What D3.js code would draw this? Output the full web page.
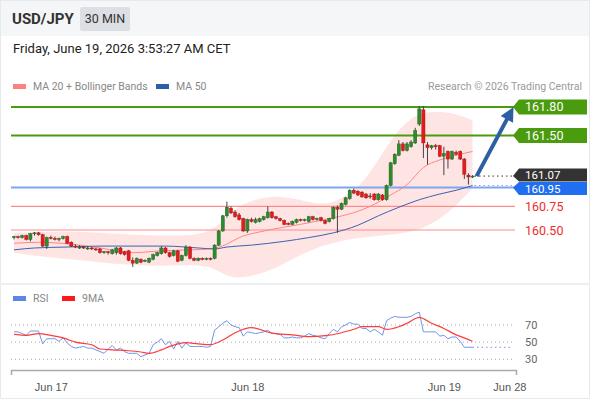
<!DOCTYPE html>
<html>
<head>
<meta charset="utf-8">
<title>USD/JPY 30 MIN</title>
<script src="https://d3js.org/d3.v7.min.js"></script>
<style>
  body { margin: 0; background: #fff; }
  svg { display: block; font-family: Roboto, "Liberation Sans", Arial, sans-serif; }
</style>
</head>
<body>
<div id="chart"></div>
<script>
// 30 min candles, index 0 = Jun 16 19:30, last = Jun 19 03:30
const opens = [160.42,160.43,160.42,160.44,160.40,160.46,160.47,160.45,160.33,160.42,
  160.41,160.40,160.41,160.43,160.37,160.33,160.32,160.32,160.31,160.31,
  160.30,160.30,160.26,160.27,160.25,160.26,160.31,160.27,160.28,160.18,
  160.15,160.19,160.17,160.16,160.19,160.23,160.25,160.31,160.26,160.23,
  160.28,160.18,160.23,160.32,160.20,160.18,160.20,160.19,160.20,160.20,
  160.34,160.49,160.65,160.73,160.69,160.66,160.62,160.49,160.61,160.58,
  160.59,160.61,160.63,160.69,160.64,160.62,160.60,160.57,160.56,160.58,
  160.61,160.60,160.59,160.64,160.61,160.63,160.60,160.59,160.62,160.74,
  160.72,160.77,160.83,160.92,160.91,160.90,160.88,160.86,160.88,160.82,
  160.87,160.82,160.97,161.20,161.29,161.41,161.34,161.38,161.42,161.62,
  161.77,161.40,161.37,161.39,161.39,161.28,161.33,161.25,161.32,161.33,
  161.25,161.08,161.06];
const highs = [160.44,160.44,160.45,160.45,160.47,160.48,160.48,160.46,160.43,160.44,
  160.43,160.42,160.44,160.44,160.38,160.35,160.34,160.33,160.33,160.32,
  160.31,160.31,160.28,160.28,160.30,160.32,160.32,160.28,160.29,160.21,
  160.21,160.20,160.19,160.21,160.25,160.27,160.33,160.32,160.27,160.29,
  160.29,160.24,160.34,160.33,160.21,160.21,160.21,160.21,160.21,160.35,
  160.50,160.66,160.80,160.75,160.71,160.68,160.63,160.62,160.63,160.63,
  160.63,160.65,160.75,160.70,160.65,160.63,160.61,160.58,160.60,160.62,
  160.62,160.62,160.65,160.65,160.63,160.64,160.61,160.63,160.75,160.76,
  160.79,160.85,160.93,160.94,160.92,160.91,160.89,160.89,160.89,160.89,
  160.88,160.98,161.22,161.31,161.45,161.43,161.43,161.45,161.58,161.81,
  161.81,161.43,161.40,161.41,161.40,161.38,161.34,161.34,161.34,161.34,
  161.26,161.10,161.08];
const lows = [160.40,160.41,160.41,160.39,160.38,160.44,160.44,160.32,160.30,160.40,
  160.39,160.38,160.40,160.35,160.32,160.31,160.30,160.30,160.29,160.29,
  160.28,160.25,160.25,160.24,160.24,160.24,160.24,160.23,160.17,160.11,
  160.14,160.15,160.16,160.15,160.18,160.22,160.24,160.25,160.21,160.22,
  160.16,160.17,160.22,160.19,160.17,160.17,160.18,160.18,160.18,160.19,
  160.33,160.48,160.63,160.67,160.63,160.60,160.48,160.47,160.58,160.57,
  160.58,160.60,160.62,160.62,160.61,160.59,160.55,160.55,160.55,160.57,
  160.59,160.59,160.58,160.60,160.60,160.59,160.56,160.58,160.61,160.47,
  160.71,160.76,160.82,160.88,160.86,160.84,160.83,160.83,160.81,160.81,
  160.81,160.81,160.96,161.19,161.28,161.33,161.33,161.37,161.41,161.60,
  161.26,161.19,161.35,161.35,161.27,161.08,161.15,161.24,161.29,161.24,
  161.04,160.98,161.05];
const closes = [160.43,160.42,160.44,160.40,160.46,160.47,160.45,160.33,160.42,160.41,
  160.40,160.41,160.43,160.36,160.33,160.32,160.32,160.31,160.31,160.30,
  160.29,160.26,160.27,160.26,160.29,160.31,160.25,160.24,160.18,160.15,
  160.20,160.16,160.18,160.20,160.24,160.26,160.31,160.26,160.22,160.28,
  160.17,160.23,160.32,160.20,160.18,160.20,160.19,160.20,160.19,160.34,
  160.49,160.65,160.74,160.68,160.64,160.61,160.49,160.61,160.59,160.61,
  160.62,160.64,160.69,160.63,160.62,160.60,160.56,160.56,160.59,160.61,
  160.60,160.61,160.64,160.61,160.62,160.60,160.57,160.62,160.74,160.72,
  160.78,160.84,160.92,160.89,160.87,160.85,160.84,160.85,160.82,160.88,
  160.82,160.97,161.21,161.30,161.41,161.34,161.41,161.43,161.55,161.78,
  161.42,161.37,161.39,161.38,161.28,161.31,161.25,161.33,161.30,161.25,
  161.09,161.06,161.07];

// indicator readings (candle index -> value)
const ma20Idx = [0,6,14,21,29,36,43,48,52,55,60,66,70,77,82,87,92,96,100,104,108,112];
const ma20Val = [160.36,160.37,160.35,160.31,160.26,160.28,160.29,160.30,160.35,160.42,160.48,160.53,160.56,160.62,160.67,160.75,160.87,160.98,161.16,161.24,161.29,161.33];
const bandIdx = [0,6,14,21,28,36,43,48,52,55,60,65,70,75,80,85,89,94,99,104,108,112];
const bandUp  = [160.47,160.48,160.49,160.47,160.45,160.44,160.44,160.48,160.63,160.76,160.84,160.86,160.82,160.76,160.82,160.98,161.24,161.58,161.75,161.75,161.73,161.66];
const bandLow = [160.26,160.22,160.19,160.16,160.13,160.12,160.13,160.12,160.01,159.99,160.03,160.12,160.24,160.33,160.39,160.42,160.44,160.46,160.50,160.61,160.76,160.94];
const ma50Idx = [0,5,13,21,29,37,45,49,52,58,66,72,78,84,89,94,99,104,108,112];
const ma50Val = [160.29,160.31,160.32,160.33,160.33,160.33,160.31,160.30,160.32,160.34,160.38,160.42,160.47,160.55,160.65,160.74,160.82,160.88,160.92,160.97];

const rsi = [62,62,60,58,63,63,63,48,54,54,54,51,55,49,45,43,44,45,43,43,
  41,39,37,42,46,41,43,39,37,37,37,33,35,37,47,50,54,47,51,42,
  51,43,49,45,45,45,45,44,45,64,68,72,75,70,68,67,57,62,61,60,
  61,62,64,60,60,59,55,55,56,55,55,57,60,58,57,55,54,60,65,62,
  68,70,73,71,71,66,66,62,65,62,58,75,78,80,79,79,79,80,83,85,
  62,62,62,62,57,58,54,56,56,51,44,44,44];
const rsiMaIdx = [0,3,6,9,12,15,19,21,24,28,31,33,36,38,42,45,48,51,54,58,63,68,72,76,80,83,85,89,91,94,96,99,102,105,108,110,112];
const rsiMaVal = [59,58,60,58,55,50,47,42,41,40,38.5,37,41,45,49.5,48,47,52.5,61,67,60.5,58.5,56.5,57.5,61,65,68,68,65,68,72,79,72,66,58.5,55,51];

const levelsBox = [161.80, 161.50, 160.95];
const levelsBoxColor = ["#4b9b0e", "#4b9b0e", "#1f6ff0"];
const levelsBoxLine = ["#4b9b0e", "#4b9b0e", "#7ea6ef"];
const levelsRed = [160.75, 160.50];
const lastPrice = 161.07;
const arrowFrom = [113, 161.07];
const arrowTo = [122, 161.80];

const tickIdx = [9, 57, 105, 121];
const tickLabels = ["Jun 17", "Jun 18", "Jun 19", "Jun 28"];
const rsiTicks = [70, 50, 30];

const W = 590, H = 400;
const svg = d3.select('#chart').append('svg').attr('width', W).attr('height', H);

const x = d3.scaleLinear().domain([0, 121]).range([14, 14 + 121 * 4.094]);
const y = d3.scaleLinear().domain([160.50, 161.80]).range([230, 107]);
const yr = d3.scaleLinear().domain([30, 70]).range([359.3, 325]);

// frame
svg.append('rect').attr('width', W).attr('height', H).attr('fill', '#fff');
svg.append('rect').attr('width', W).attr('height', 36).attr('fill', '#f5f6f8');
svg.append('rect').attr('x', 0.5).attr('y', 0.5).attr('width', W - 1).attr('height', H - 2)
  .attr('fill', 'none').attr('stroke', '#e6e9ed');
svg.append('line').attr('x1', 0).attr('x2', W).attr('y1', 284).attr('y2', 284)
  .attr('stroke', '#eceef2').attr('stroke-width', 2);

// header
svg.append('text').attr('x', 12).attr('y', 24).attr('font-size', 15).attr('font-weight', 'bold')
  .attr('fill', '#333').text('USD/JPY');
svg.append('rect').attr('x', 80).attr('y', 7).attr('width', 50).attr('height', 24).attr('rx', 2).attr('fill', '#dcdfe4');
svg.append('text').attr('x', 105).attr('y', 23).attr('text-anchor', 'middle').attr('font-size', 12.5)
  .attr('fill', '#333').text('30 MIN');
svg.append('text').attr('x', 13).attr('y', 53).attr('font-size', 13).attr('fill', '#222')
  .text('Friday, June 19, 2026 3:53:27 AM CET');

// legend
svg.append('rect').attr('x', 13).attr('y', 84).attr('width', 13).attr('height', 5).attr('fill', '#ff8080');
svg.append('text').attr('x', 33).attr('y', 90).attr('font-size', 10.5).attr('fill', '#888').text('MA 20 + Bollinger Bands');
svg.append('rect').attr('x', 156).attr('y', 84).attr('width', 13).attr('height', 5).attr('fill', '#2f5ea8');
svg.append('text').attr('x', 176).attr('y', 90).attr('font-size', 10.5).attr('fill', '#888').text('MA 50');
svg.append('text').attr('x', 582).attr('y', 90).attr('text-anchor', 'end').attr('font-size', 10.5)
  .attr('fill', '#9a9a9a').text('Research \u00a9 2026 Trading Central');

// bollinger band
const band = d3.area().curve(d3.curveBasis)
  .x((d, i) => x(bandIdx[i])).y0((d, i) => y(bandLow[i])).y1((d, i) => y(bandUp[i]));
svg.append('path').datum(bandIdx).attr('d', band).attr('fill', '#ff9a9a').attr('opacity', 0.27);

// horizontal levels
levelsRed.forEach(v => {
  svg.append('line').attr('x1', 11).attr('x2', 515).attr('y1', y(v)).attr('y2', y(v))
    .attr('stroke', '#ff8a8a').attr('stroke-width', 1.2);
  svg.append('text').attr('x', 525).attr('y', y(v) + 4.5).attr('font-size', 12.5)
    .attr('fill', '#f02c2c').text(v.toFixed(2));
});
levelsBox.forEach((v, i) => {
  svg.append('line').attr('x1', 11).attr('x2', 515).attr('y1', y(v)).attr('y2', y(v))
    .attr('stroke', levelsBoxLine[i]).attr('stroke-width', 2);
});

// moving averages
const lineMa20 = d3.line().curve(d3.curveMonotoneX).x((d, i) => x(ma20Idx[i])).y(d => y(d));
svg.append('path').datum(ma20Val).attr('d', lineMa20).attr('fill', 'none').attr('stroke', '#ff8585').attr('stroke-width', 1);
const lineMa50 = d3.line().curve(d3.curveMonotoneX).x((d, i) => x(ma50Idx[i])).y(d => y(d));
svg.append('path').datum(ma50Val).attr('d', lineMa50).attr('fill', 'none').attr('stroke', '#3a62b0').attr('stroke-width', 1);

// candles
const candles = svg.append('g');
const idx = d3.range(closes.length);
candles.selectAll('line').data(idx).join('line')
  .attr('x1', i => x(i)).attr('x2', i => x(i))
  .attr('y1', i => y(highs[i])).attr('y2', i => y(lows[i]))
  .attr('stroke', '#444').attr('stroke-width', 1);
candles.selectAll('rect').data(idx).join('rect')
  .attr('x', i => x(i) - 1.6).attr('width', 3.2)
  .attr('y', i => y(Math.max(opens[i], closes[i])))
  .attr('height', i => Math.max(1, Math.abs(y(opens[i]) - y(closes[i]))))
  .attr('fill', i => closes[i] >= opens[i] ? '#2e8a2e' : '#e41b1b')
  .attr('stroke', i => closes[i] >= opens[i] ? '#1d5e1d' : '#a51010')
  .attr('stroke-width', 0.4);

// last price / ma50 dotted extensions
const last = closes.length - 1;
svg.append('line').attr('x1', x(last) + 2).attr('x2', 515).attr('y1', y(lastPrice)).attr('y2', y(lastPrice))
  .attr('stroke', '#333').attr('stroke-dasharray', '1.5,3');
svg.append('line').attr('x1', x(last) + 2).attr('x2', 515)
  .attr('y1', y(ma50Val[ma50Val.length - 1])).attr('y2', y(ma50Val[ma50Val.length - 1]))
  .attr('stroke', '#7ea6ef').attr('stroke-dasharray', '1.5,3');

// arrow
const ax0 = x(arrowFrom[0]), ay0 = y(arrowFrom[1]), ax1 = x(arrowTo[0]), ay1 = y(arrowTo[1]);
const len = Math.hypot(ax1 - ax0, ay1 - ay0), ux = (ax1 - ax0) / len, uy = (ay1 - ay0) / len;
const bx = ax1 - ux * 14, by = ay1 - uy * 14;
svg.append('line').attr('x1', ax0).attr('y1', ay0).attr('x2', bx + ux * 2).attr('y2', by + uy * 2)
  .attr('stroke', '#2d5fa2').attr('stroke-width', 4);
svg.append('path')
  .attr('d', `M${ax1},${ay1}L${bx - uy * 7},${by + ux * 7}L${bx + uy * 7},${by - ux * 7}Z`)
  .attr('fill', '#2d5fa2');

// price boxes (shift = nudge so neighbouring labels do not collide)
function priceBox(v, color, h, fs, shift) {
  const yy = y(v) + shift;
  svg.append('path').attr('d', `M513,${y(v)}L519,${yy - h / 2}H587V${yy + h / 2}H519Z`).attr('fill', color);
  svg.append('text').attr('x', 525).attr('y', yy).attr('dy', '0.35em').attr('font-size', fs)
    .attr('fill', '#fff').text(v.toFixed(2));
}
levelsBox.slice(0, 2).forEach((v, i) => priceBox(v, levelsBoxColor[i], 15, 12.5, 0));
priceBox(lastPrice, '#333', 13, 11.5, -1);
priceBox(levelsBox[2], levelsBoxColor[2], 13, 11.5, 1.2);

// RSI panel
svg.append('rect').attr('x', 13).attr('y', 296).attr('width', 13).attr('height', 5).attr('fill', '#5f86e6');
svg.append('text').attr('x', 33).attr('y', 302).attr('font-size', 10.5).attr('fill', '#888').text('RSI');
svg.append('rect').attr('x', 62).attr('y', 296).attr('width', 13).attr('height', 5).attr('fill', '#ff1a1a');
svg.append('text').attr('x', 82).attr('y', 302).attr('font-size', 10.5).attr('fill', '#888').text('9MA');

rsiTicks.forEach(t => {
  svg.append('line').attr('x1', 11).attr('x2', 515).attr('y1', yr(t)).attr('y2', yr(t))
    .attr('stroke', '#aaa').attr('stroke-dasharray', '1,3');
  svg.append('text').attr('x', 525).attr('y', yr(t) + 4).attr('font-size', 11).attr('fill', '#666').text(t);
});

const rsiLine = d3.line().x((d, i) => x(i)).y(d => yr(d));
svg.append('path').datum(rsi).attr('d', rsiLine).attr('fill', 'none').attr('stroke', '#7095ea').attr('stroke-width', 1);
svg.append('line').attr('x1', x(last)).attr('x2', 513).attr('y1', yr(rsi[last])).attr('y2', yr(rsi[last]))
  .attr('stroke', '#7095ea').attr('stroke-dasharray', '1.5,3');
const rsiMaLine = d3.line().curve(d3.curveMonotoneX).x((d, i) => x(rsiMaIdx[i])).y(d => yr(d));
svg.append('path').datum(rsiMaVal).attr('d', rsiMaLine).attr('fill', 'none').attr('stroke', '#ff3b3b').attr('stroke-width', 1.2);

// time axis
const xAxis = d3.axisBottom(x).tickValues(tickIdx).tickFormat((d, i) => tickLabels[i]).tickSize(0).tickPadding(13);
const gx = svg.append('g').attr('transform', 'translate(0,370)').call(xAxis);
gx.select('.domain').remove();
gx.selectAll('text').attr('font-size', 11).attr('fill', '#555').attr('font-family', null);
svg.append('path').attr('d', 'M11.5,375V370.5H516.5V375').attr('fill', 'none').attr('stroke', '#aaa').attr('stroke-width', 1.5);
</script>
</body>
</html>
